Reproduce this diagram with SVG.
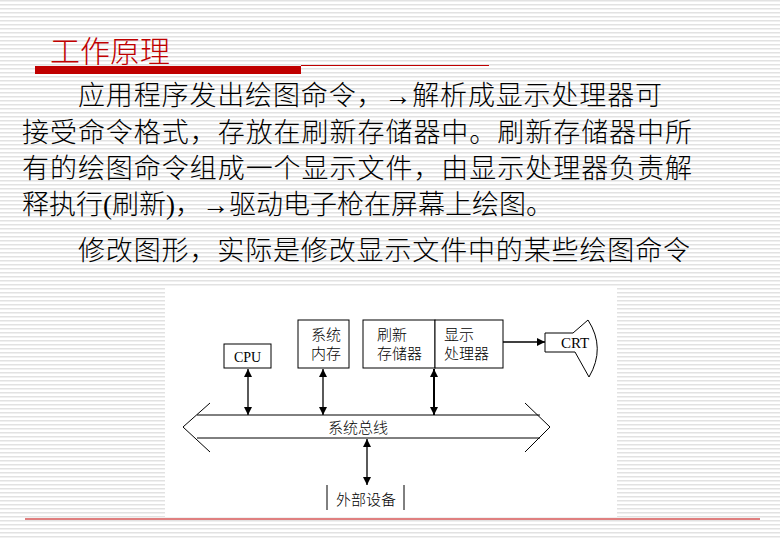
<svg xmlns="http://www.w3.org/2000/svg" width="780" height="540" viewBox="0 0 780 540">
<defs>
<pattern id="st" width="4" height="4" patternUnits="userSpaceOnUse"><rect width="4" height="4" fill="#fff"/><rect y="0" width="4" height="1.5" fill="#e2e2e2"/></pattern>
<marker id="ah" viewBox="0 0 10 10" refX="10" refY="5" markerWidth="8" markerHeight="8" markerUnits="userSpaceOnUse" orient="auto-start-reverse"><path d="M0,0L10,5L0,10z" fill="#000"/></marker>
<style>
.b{font-family:"Liberation Serif","Noto Sans CJK SC",serif;font-size:27px;font-weight:300;fill:#000}
.n{font-family:"Noto Sans CJK SC",sans-serif;font-size:15px;font-weight:300;fill:#000}
.bx{fill:#fff;stroke:#000;stroke-width:1}
.ln{stroke:#000;stroke-width:1.3;fill:none}
</style>
</defs>
<rect width="780" height="540" fill="url(#st)"/>
<rect x="165" y="287" width="452" height="230" fill="#fff"/>
<text x="50" y="62" font-family="Noto Sans CJK SC,sans-serif" font-size="30" font-weight="300" fill="#C00000">工作原理</text>
<rect x="35" y="66" width="266" height="8" fill="#C00000"/>
<line x1="301" y1="65.5" x2="489" y2="65.5" stroke="#C00000" stroke-width="1"/>
<text class="b" x="78" y="105" textLength="584">应用程序发出绘图命令，→解析成显示处理器可</text>
<text class="b" x="22" y="142" textLength="670">接受命令格式，存放在刷新存储器中。刷新存储器中所</text>
<text class="b" x="22" y="178" textLength="670">有的绘图命令组成一个显示文件，由显示处理器负责解</text>
<text class="b" x="22" y="214">释执行(刷新)，→驱动电子枪在屏幕上绘图。</text>
<text class="b" x="78" y="260" textLength="612">修改图形，实际是修改显示文件中的某些绘图命令</text>
<g id="cpu"><rect class="bx" x="224" y="344" width="47" height="24"/><text x="247.5" y="362" font-family="Liberation Serif,serif" font-size="14" text-anchor="middle">CPU</text></g>
<g id="mem"><rect class="bx" x="298" y="320" width="51" height="48"/><text class="n" x="326" y="340" text-anchor="middle">系统</text><text class="n" x="326" y="359" text-anchor="middle">内存</text></g>
<g id="buf"><rect class="bx" x="363" y="320" width="72" height="48"/><text class="n" x="377" y="340">刷新</text><text class="n" x="377" y="359">存储器</text></g>
<g id="dp"><rect class="bx" x="435" y="320" width="68" height="48"/><text class="n" x="444" y="340">显示</text><text class="n" x="444" y="359">处理器</text></g>
<g id="crt"><path d="M545,333H573L588,320Q606,348 589,377L575,352H545Z" fill="#fff" stroke="#000" stroke-width="1"/><text x="561" y="348" font-family="Liberation Serif,serif" font-size="15">CRT</text></g>
<g id="bus"><path d="M197,415H540M197,438H540M210,403L183,427L210,452M525,403L550,427L525,452" stroke="#000" stroke-width="1" fill="none"/><text class="n" x="358" y="433" text-anchor="middle">系统总线</text></g>
<g id="ext"><path d="M327,485V510M404,485V510" stroke="#000" fill="none"/><text class="n" x="366" y="505" text-anchor="middle">外部设备</text></g>
<g id="connectors">
<line class="ln" x1="248" y1="369" x2="248" y2="415" marker-start="url(#ah)" marker-end="url(#ah)"/>
<line class="ln" x1="323" y1="369" x2="323" y2="415" marker-start="url(#ah)" marker-end="url(#ah)"/>
<line x1="434" y1="369" x2="434" y2="415" stroke="#000" stroke-width="2" marker-start="url(#ah)" marker-end="url(#ah)"/>
<line class="ln" x1="367" y1="439" x2="367" y2="485" marker-start="url(#ah)" marker-end="url(#ah)"/>
<line class="ln" x1="503" y1="342" x2="545" y2="342" marker-end="url(#ah)"/>
</g>
<line x1="25" y1="519" x2="760" y2="519" stroke="#C00000" stroke-width="1"/>
</svg>
